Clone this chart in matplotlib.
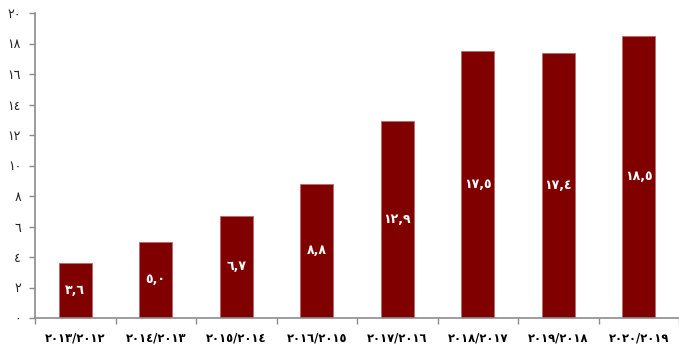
import matplotlib.pyplot as plt

plt.rcParams['font.family'] = ['DejaVu Sans']

# Arabic-Indic digits
AR = str.maketrans('0123456789', '٠١٢٣٤٥٦٧٨٩')

seasons = ['2013/2012', '2014/2013', '2015/2014', '2016/2015',
           '2017/2016', '2018/2017', '2019/2018', '2020/2019']
values = [3.6, 5.0, 6.7, 8.8, 12.9, 17.5, 17.4, 18.5]
yticks = [0, 2, 4, 6, 8, 10, 12, 14, 16, 18, 20]

fig = plt.figure(figsize=(6.79, 3.49), dpi=100)
ax = fig.add_axes([35 / 679, 31 / 349, 644 / 679, 305 / 349])

x = range(len(values))
ax.bar(x, values, width=0.41, color='#800000',
       edgecolor='#b86a6a', linewidth=0.6)

# value labels sit in the middle of each bar
for xi, v in zip(x, values):
    txt = f'{v:.1f}'.replace('.', ',').translate(AR)
    ax.text(xi, v / 2, txt, ha='center', va='center', color='white',
            fontsize=9, fontweight='bold')

ax.set_xlim(-0.5, len(values) - 0.5)
ax.set_ylim(0, 20)

ax.set_xticks(list(x))
ax.set_xticklabels([s.translate(AR) for s in seasons], fontsize=8.3,
                   fontweight='bold')
ax.tick_params(axis='x', length=0, pad=10)
ax.set_xticks([i - 0.5 for i in range(len(values) + 1)], minor=True)
ax.tick_params(axis='x', which='minor', length=4, color='#8c8c8c', width=1)

ax.set_yticks(yticks)
ax.set_yticklabels([str(t).translate(AR) for t in yticks], fontsize=9,
                   color='#222222')
ax.tick_params(axis='y', length=4, color='#8c8c8c', width=1, pad=6)

for s in ['top', 'right']:
    ax.spines[s].set_visible(False)
for s in ['left', 'bottom']:
    ax.spines[s].set_color('#8c8c8c')
    ax.spines[s].set_linewidth(1.2)

fig.savefig('out.png', dpi=100)
